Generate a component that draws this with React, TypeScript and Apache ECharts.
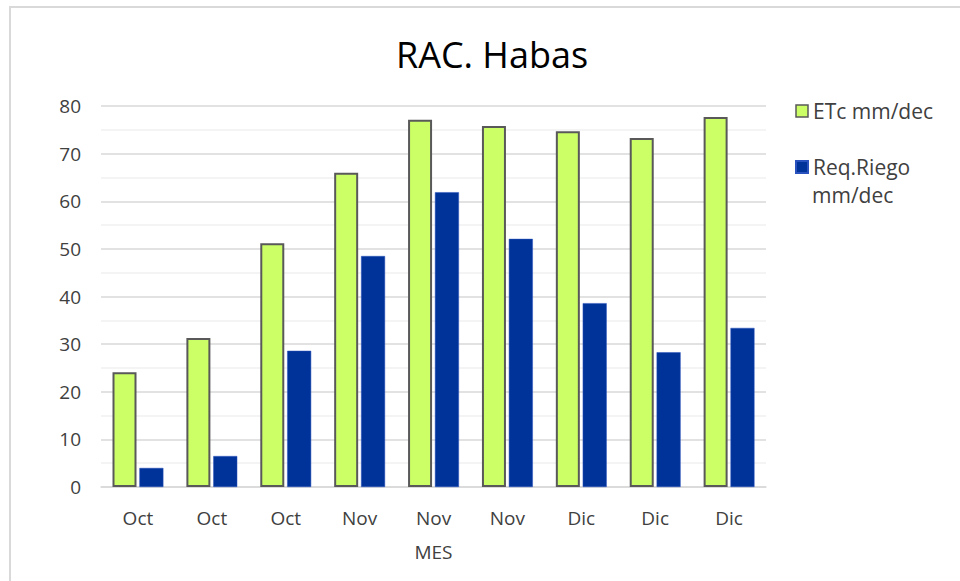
import React, { useEffect, useRef } from "react";
import * as echarts from "echarts";

const categories = ["Oct", "Oct", "Oct", "Nov", "Nov", "Nov", "Dic", "Dic", "Dic"];
const etcValues = [24.1, 31.3, 51.2, 66.0, 77.1, 75.8, 74.7, 73.3, 77.7];
const riegoValues = [4.0, 6.5, 28.6, 48.5, 61.9, 52.1, 38.6, 28.3, 33.4];
const seriesNames = ["ETc mm/dec", "Req.Riego mm/dec"];

const FONT = "'Open Sans', 'Noto Sans', sans-serif";

export default function App() {
  const ref = useRef<HTMLDivElement>(null);
  useEffect(() => {
    if (!ref.current) return;
    const chart = echarts.init(ref.current, null, { renderer: "svg" });
    chart.setOption({
      animation: false,
      backgroundColor: "#ffffff",
      title: {
        text: "RAC. Habas",
        left: 487,
        textAlign: "center",
        top: 31,
        textStyle: { fontFamily: FONT, fontSize: 36, fontWeight: "normal", color: "#000000" },
      },
      graphic: [
        {
          type: "rect",
          shape: { x: 10, y: 7, width: 990, height: 620 },
          style: { fill: "none", stroke: "#d9d9d9", lineWidth: 2 },
          silent: true,
        },
        {
          type: "text",
          left: 812,
          top: 184,
          style: {
            text: "mm/dec",
            font: `21px ${FONT}`,
            lineHeight: 22,
            fill: "#404040",
          },
          silent: true,
        },
      ],
      legend: {
        orient: "vertical",
        left: 790,
        top: 95,
        itemWidth: 12,
        itemHeight: 12,
        itemGap: 34,
        icon: "rect",
        data: [
          { name: seriesNames[0], itemStyle: { borderColor: "#595959", borderWidth: 1.5 } },
          { name: seriesNames[1] },
        ],
        formatter: (name: string) => (name === seriesNames[1] ? "Req.Riego" : name),
        textStyle: { fontFamily: FONT, fontSize: 21, color: "#404040", lineHeight: 22 },
      },
      grid: { left: 101, right: 194, top: 106, bottom: 94 },
      xAxis: {
        type: "category",
        data: categories,
        name: "MES",
        nameLocation: "middle",
        nameGap: 55,
        nameTextStyle: { fontFamily: FONT, fontSize: 19, color: "#404040" },
        axisLine: { lineStyle: { color: "#d9d9d9", width: 1.5 } },
        axisTick: { show: false },
        axisLabel: { margin: 21, fontFamily: FONT, fontSize: 19, color: "#404040" },
      },
      yAxis: {
        type: "value",
        min: 0,
        max: 80,
        interval: 10,
        axisLine: { show: false },
        axisTick: { show: false },
        axisLabel: { margin: 20, fontFamily: FONT, fontSize: 19, color: "#404040" },
        splitLine: { lineStyle: { color: "#d9d9d9", width: 1.5 } },
        minorTick: { show: false, splitNumber: 2 },
        minorSplitLine: { show: true, lineStyle: { color: "#f0f0f0", width: 1.5 } },
      },
      series: [
        {
          name: seriesNames[0],
          type: "bar",
          data: etcValues,
          barWidth: 24,
          barGap: "12%",
          itemStyle: { color: "#ccff66", borderColor: "#595959", borderWidth: 2 },
        },
        {
          name: seriesNames[1],
          type: "bar",
          data: riegoValues,
          barWidth: 24,
          itemStyle: { color: "#003399", borderColor: "#2a52be", borderWidth: 0.5 },
        },
      ],
    });
    return () => chart.dispose();
  }, []);
  return (
    <div
      ref={ref}
      style={{ position: "fixed", left: 0, top: 0, width: 960, height: 581 }}
    />
  );
}
